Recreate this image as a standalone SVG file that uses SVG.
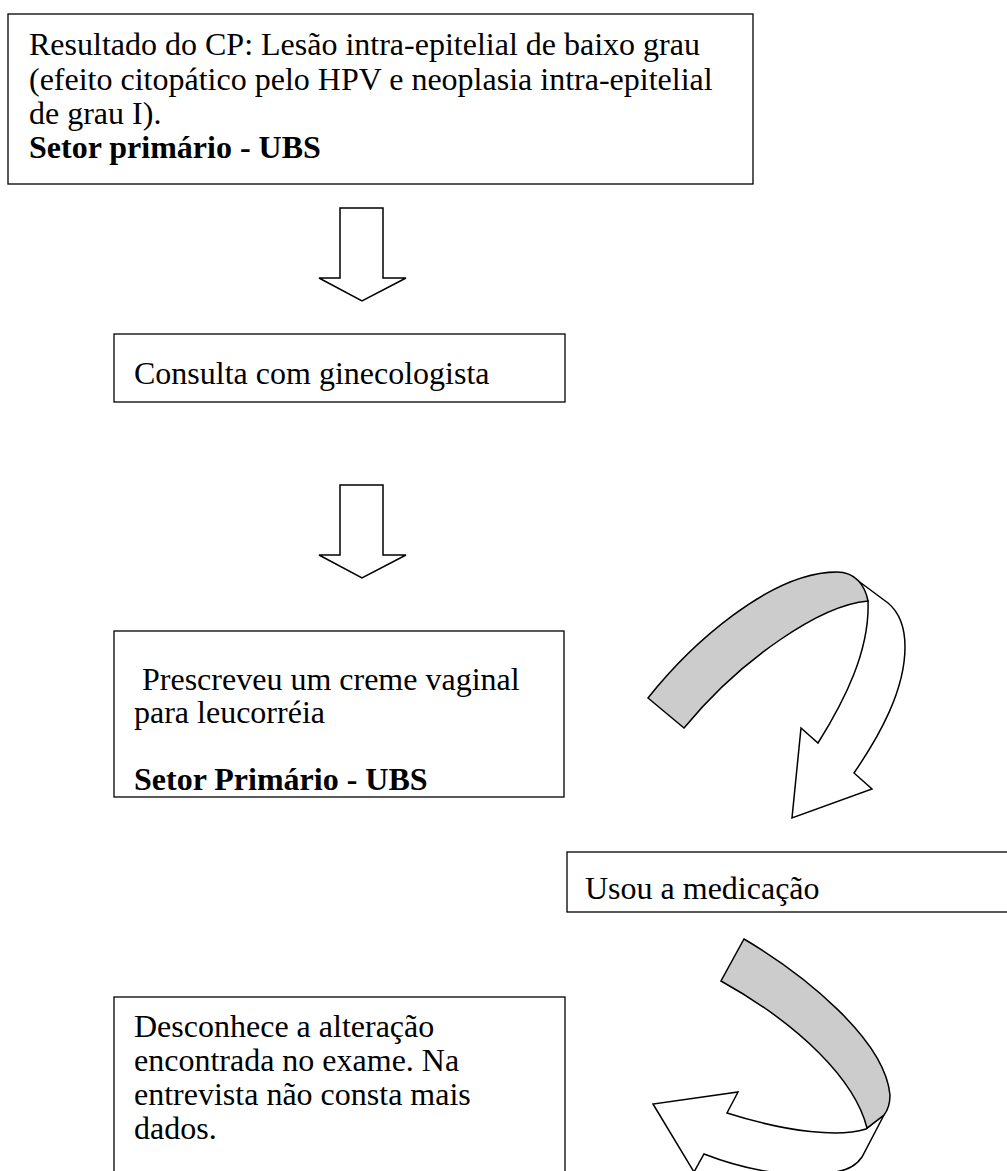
<svg xmlns="http://www.w3.org/2000/svg" width="1007" height="1171" viewBox="0 0 1007 1171">
  <style>
    .box { fill: #ffffff; stroke: #000000; stroke-width: 1.3; }
    .t { font-family: "Liberation Serif", "Times New Roman", serif; font-size: 32px; fill: #000000; }
    .b { font-weight: bold; }
    .arrow { fill: #ffffff; stroke: #000000; stroke-width: 1.5; stroke-linejoin: miter; }
    .band { fill: #cccccc; stroke: #000000; stroke-width: 1.5; }
  </style>
  <rect width="1007" height="1171" fill="#ffffff"/>

  <g id="node-resultado">
    <rect class="box" x="8" y="14" width="745" height="170"/>
    <text class="t" x="29" y="55">Resultado do CP: Lesão intra-epitelial de baixo grau</text>
    <text class="t" x="29" y="90">(efeito citopático pelo HPV e neoplasia intra-epitelial</text>
    <text class="t" x="29" y="124">de grau I).</text>
    <text class="t b" x="29" y="158">Setor primário - UBS</text>
  </g>

  <g id="node-consulta">
    <rect class="box" x="114" y="334" width="451" height="68"/>
    <text class="t" x="134" y="384">Consulta com ginecologista</text>
  </g>

  <g id="node-prescreveu">
    <rect class="box" x="114" y="631" width="450" height="166"/>
    <text class="t" x="134" y="690" xml:space="preserve"> Prescreveu um creme vaginal</text>
    <text class="t" x="134" y="723">para leucorréia</text>
    <text class="t b" x="134" y="790">Setor Primário - UBS</text>
  </g>

  <g id="node-medicacao">
    <rect class="box" x="567" y="852" width="460" height="60"/>
    <text class="t" x="585" y="899">Usou a medicação</text>
  </g>

  <g id="node-desconhece">
    <rect class="box" x="114" y="997" width="451" height="200"/>
    <text class="t" x="134" y="1037">Desconhece a alteração</text>
    <text class="t" x="134" y="1071">encontrada no exame. Na</text>
    <text class="t" x="134" y="1105">entrevista não consta mais</text>
    <text class="t" x="134" y="1139">dados.</text>
  </g>

  <g id="connectors">
    <!-- straight block arrows -->
    <path class="arrow" d="M340,208 L383,208 L383,278 L406,278 L362,301 L319,278 L340,278 Z"/>
    <path class="arrow" d="M340,485 L383,485 L383,555 L406,555 L362,578 L319,555 L340,555 Z"/>

    <!-- curved ribbon arrow: prescription to medication -->
    <path class="arrow" d="M853,577 L888,603 C900,613 905,628 905,647 C905,690 880,735 854,773 L872,789 L792,818 L801,728 L818,743 C845,700 870,650 868,601 Z"/>
    <path class="band" d="M648,698 C690,645 770,572 837,572 C855,572 865,585 868,601 C820,605 740,660 684,728 Z"/>

    <!-- curved ribbon arrow: medication to unknown result -->
    <path class="arrow" d="M866,1129 C840,1137 790,1133 727,1113 L738,1092 L653,1104 L694,1172 L704,1154 C740,1168 790,1180 835,1172 C850,1170 858,1163 862,1157 L884,1115 Z"/>
    <path class="band" d="M744,939 C805,975 885,1040 890,1095 C890,1103 888,1110 884,1115 L867,1128 C855,1080 800,1025 721,981 Z"/>
  </g>
</svg>
